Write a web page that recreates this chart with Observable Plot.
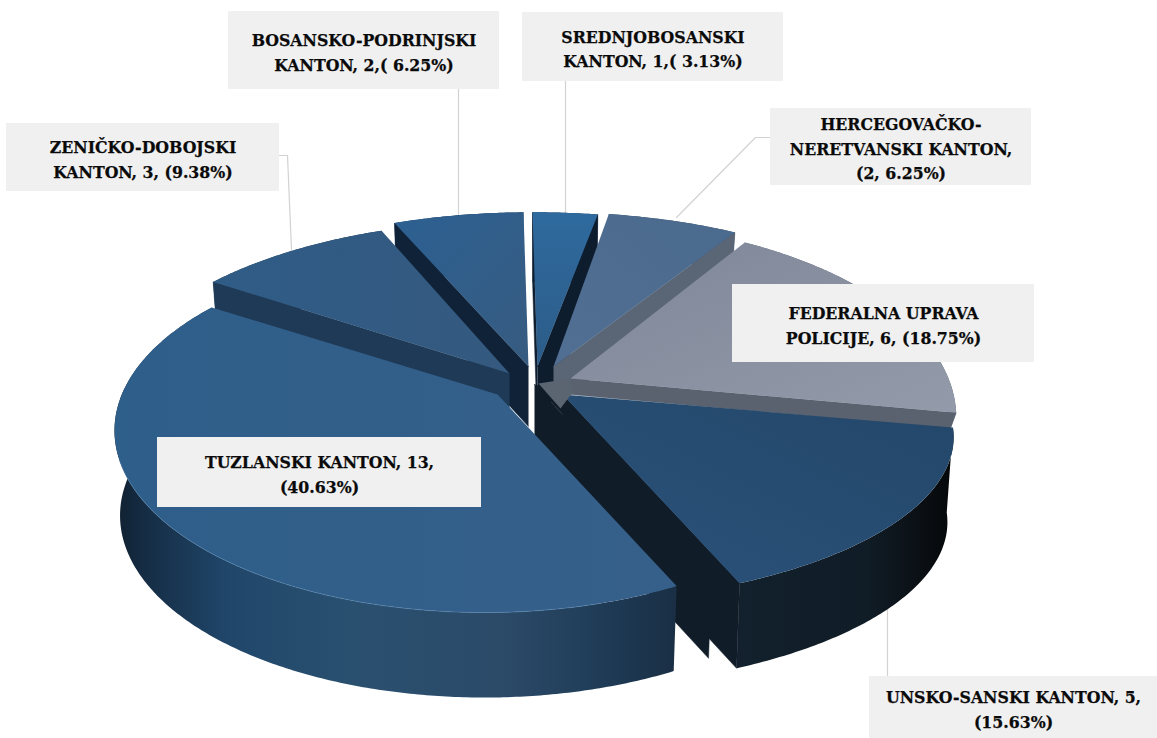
<!DOCTYPE html>
<html><head><meta charset="utf-8">
<style>html,body{margin:0;padding:0;background:#fff}svg{display:block}</style>
<script src="https://cdn.jsdelivr.net/npm/d3@7"></script>
<script src="https://cdn.jsdelivr.net/npm/@observablehq/plot@0.6"></script>
</head><body><div id="chart"></div>
<script>
// ---- data ----
const categories = ["SREDNJOBOSANSKI KANTON","HERCEGOVAČKO-NERETVANSKI KANTON","FEDERALNA UPRAVA POLICIJE","UNSKO-SANSKI KANTON","TUZLANSKI KANTON","ZENIČKO-DOBOJSKI KANTON","BOSANSKO-PODRINJSKI KANTON"];
const counts = [1,2,6,5,13,3,2];
const labelTexts = [
  "SREDNJOBOSANSKI\nKANTON, 1,( 3.13%)",
  "HERCEGOVAČKO-\nNERETVANSKI KANTON,\n(2, 6.25%)",
  "FEDERALNA UPRAVA\nPOLICIJE, 6, (18.75%)",
  "UNSKO-SANSKI KANTON, 5,\n(15.63%)",
  "TUZLANSKI KANTON, 13,\n(40.63%)",
  "ZENIČKO-DOBOJSKI\nKANTON, 3, (9.38%)",
  "BOSANSKO-PODRINJSKI\nKANTON, 2,( 6.25%)"
];
// ---- slice layout and styling (per category, same order) ----
const apexX = [537,553,570,562,497,509,528];
const apexY = [366,366,378,394,394,373,366];
const ringX = [537,553,570,540,484,509,528];
const ringY = [366,366,378,395,430,373,366];
const sizeX = [1,1,0.945,1,0.925,0.99,1];
const sizeY = [1,1,1.02,0.845,0.984,0.99,1];
const persp = [0.2,0.2,0.2,0.25,0,0.2,0.2];
const rotate = [-0.015,-0.03,-0.02,0,0,0,-0.015];
const warp = [1,1,1,1,1.12,1,1];
const depth = [70,40,16,85,85,60,60];
const topStops = [
  ["#2f6a9e","#2c5c88"],["#4a6a8e","#516f92"],["#7f8698","#939aa9"],["#234769","#2b527b"],
  ["#2e5e8a","#36608a"],["#2f5c86","#35597f"],["#2c6092","#375b80"]];
const topAngles = [[0,0,0,1],[1,0,0,1],[0,0,1,1],[1,0,0,1],[0,0,1,0],[0,0,1,0],[0,0,1,1]];
const rimStops = [
  [[0,"#1b3a58"],[1,"#1b3a58"]],[[0,"#3a4d63"],[1,"#3a4d63"]],[[0,"#5c6472"],[1,"#555d6a"]],
  [[0,"#12212d"],[0.6,"#101c26"],[0.88,"#0a0e12"],[1,"#050708"]],
  [[0,"#10202f"],[0.05,"#152c43"],[0.2,"#20466a"],[0.42,"#2a5070"],[0.7,"#2b4a68"],[0.88,"#1e3a55"],[1,"#1a2f44"]],
  [[0,"#1f3a57"],[1,"#1f3a57"]],[[0,"#1d3a58"],[1,"#1d3a58"]]];
const wallFirst = ["#101f30","#3d5168","#5f6878","#111f2d","#1a3650","#1f3a57","#0f2238"];
const wallLast = ["#0e1d2e","#5a6675","#5a6270","#101c28","#1f3a57","#1f3a57","#10243a"];
const drawOrder = [0,6,1,5,2,3,4];
// label boxes
const boxes = [
  {x1:522,x2:783,y1:12,y2:81},{x1:770,x2:1031,y1:108,y2:185},{x1:732,x2:1034,y1:284,y2:362},
  {x1:869,x2:1157,y1:676,y2:738},{x1:157,x2:481,y1:437,y2:507},{x1:6,x2:279,y1:123,y2:191},{x1:228,x2:499,y1:11,y2:89}];
const leaders = [
  [[565,81],[565,212]],[[770,137],[755,137],[676,217]],[],[[887,676],[887,600]],[],[[279,155],[287,155],[291,250]],[[458,89],[458,215]]];
const notchShift = [-28,-10];
const hubShape = [[-32,5],[0,0],[2,14],[-10,30]];

const Rx = 400, Ry = 185;
const angles = d3.pie().value(d=>d).sort(null)(counts);
const midAngle = a => (a.startAngle+a.endAngle)/2;
function rim(i, theta, z, ox=0, oy=0){
  const m = midAngle(angles[i]);
  const th = m + (theta-m)*warp[i] + rotate[i];
  const u = Math.sin(th), v = Math.cos(th), s = 1/(1+persp[i]*v);
  return {x: ox+ringX[i]+Rx*sizeX[i]*u*s*(1-0.015*z), y: oy+ringY[i]-Ry*sizeY[i]*v*s + depth[i]*z};
}
const apex = (i,z,ox=0,oy=0)=>({x:ox+apexX[i],y:oy+apexY[i]+depth[i]*z});
function sliceParts(i){
  const a = angles[i], n = Math.max(8, Math.round((a.endAngle-a.startAngle)/0.01));
  const ts = d3.range(n+1).map(k=>a.startAngle+(a.endAngle-a.startAngle)*k/n);
  const side = [...ts.map(t=>rim(i,t,0)),...ts.slice().reverse().map(t=>rim(i,t,1))];
  const wall = (theta,key,color,ox=0,oy=0)=>[apex(i,0,ox,oy),rim(i,theta,0,ox,oy),rim(i,theta,1,ox,oy),apex(i,1,ox,oy)].map(p=>({...p,key,color}));
  const walls = [];
  if (Math.sin(a.startAngle+rotate[i])<-1e-6) walls.push(...wall(a.startAngle,`a${i}`,wallFirst[i]));
  if (Math.sin(a.endAngle+rotate[i])>1e-6) walls.push(...wall(a.endAngle,`b${i}`,wallLast[i]));
  const top = [apex(i,0),...ts.map(t=>rim(i,t,0))];
  return {side,walls,top,ts,wall};
}
const defsMark = () => {
  const g0 = d3.create("svg:g");
  const d = g0.append("defs");
  topStops.forEach((st,i)=>{
    const g = d.append("linearGradient").attr("id",`top${i}`)
      .attr("x1",topAngles[i][0]).attr("y1",topAngles[i][1]).attr("x2",topAngles[i][2]).attr("y2",topAngles[i][3]);
    st.forEach((c,j)=>g.append("stop").attr("offset",j/(st.length-1)).attr("stop-color",c));
  });
  rimStops.forEach((st,i)=>{
    const g = d.append("linearGradient").attr("id",`rim${i}`);
    st.forEach(([o,c])=>g.append("stop").attr("offset",o).attr("stop-color",c));
  });
  return g0.node();
};
const lineOpts = {x:"x",y:"y"};
const sliceMarks = drawOrder.flatMap(i=>{
  const {side,walls,top,ts,wall} = sliceParts(i);
  const out = [];
  if (i===3) {
    const [ox,oy] = notchShift, end = angles[i].endAngle;
    const gap = [apex(i,0,ox,oy),apex(i,0),rim(i,end,0),rim(i,end,0,ox,oy)].map(p=>({...p,key:"gap",color:wallLast[i]}));
    out.push(Plot.line([...wall(end,"notch",wallLast[i],ox,oy),...gap],{...lineOpts,z:"key",fill:"color",stroke:"color",strokeWidth:0.5}));
  }
  out.push(Plot.line(side,{...lineOpts,fill:`url(#rim${i})`,stroke:"none"}));
  if (walls.length) out.push(Plot.line(walls,{...lineOpts,z:"key",fill:"color",stroke:"color",strokeWidth:0.5}));
  out.push(Plot.line(top,{...lineOpts,fill:`url(#top${i})`,stroke:"none"}));
  if (i===3) {
    const c = apex(2,0);
    const hub = hubShape.map(([a,b])=>({x:c.x+a,y:c.y+b}));
    out.push(Plot.line(hub,{...lineOpts,fill:"#5b6471",stroke:"none"}));
  }
  if (i===4) {
    const arc = ts.filter(t=>t>2.95&&t<4.5).map(t=>rim(i,t,0));
    out.push(Plot.line(arc,{...lineOpts,stroke:"#5585b0",strokeWidth:1,strokeOpacity:0.55}));
  }
  return out;
});
const leaderRows = leaders.flatMap((pts,i)=>pts.map(([x,y])=>({x,y,i})));
const labelRows = boxes.map((b,i)=>({...b,text:labelTexts[i],category:categories[i],cx:(b.x1+b.x2)/2,cy:(b.y1+b.y2)/2}));
const chart = Plot.plot({
  width:1157,height:738,margin:0,
  x:{domain:[0,1157],range:[0,1157],axis:null},
  y:{domain:[0,738],range:[0,738],axis:null},
  color:{type:"identity"},
  style:{background:"transparent"},
  marks:[
    defsMark,
    Plot.line(leaderRows,{x:"x",y:"y",z:"i",stroke:"#d2d2d2",strokeWidth:1.2}),
    ...sliceMarks,
    Plot.rect(labelRows,{x1:"x1",x2:"x2",y1:"y1",y2:"y2",fill:"#f0f0f0"}),
    Plot.text(labelRows,{x:"cx",y:"cy",text:"text",fill:"#0a0a0a",stroke:"#0a0a0a",strokeWidth:0.25,fontFamily:"DejaVu Serif Condensed, DejaVu Serif",fontWeight:"bold",fontSize:17.5,lineHeight:1.4,textAnchor:"middle"})
  ]
});
document.getElementById("chart").append(chart);
</script></body></html>
